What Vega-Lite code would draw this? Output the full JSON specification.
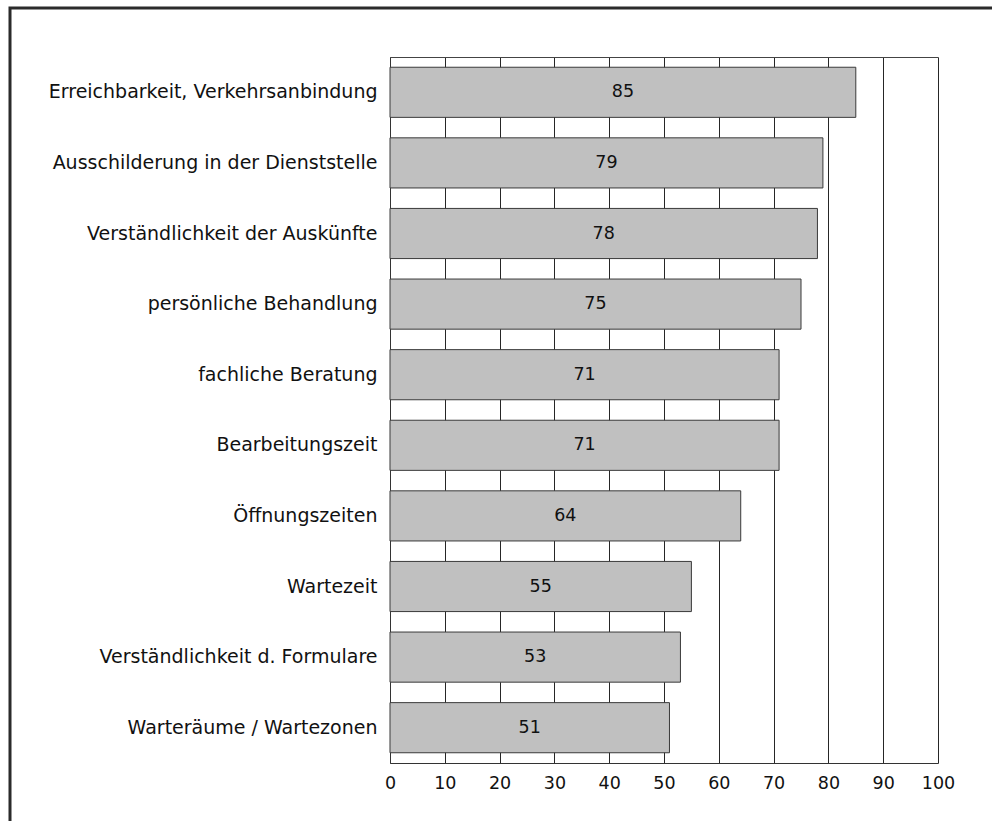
{
  "$schema": "https://vega.github.io/schema/vega-lite/v6.json",
  "width": 984,
  "height": 830,
  "autosize": "none",
  "padding": {"left": 10, "top": 8, "right": 0, "bottom": 0},
  "background": "white",
  "data": {
    "values": [
      {"aspekt": "Erreichbarkeit, Verkehrsanbindung", "wert": 85},
      {"aspekt": "Ausschilderung in der Dienststelle", "wert": 79},
      {"aspekt": "Verständlichkeit der Auskünfte", "wert": 78},
      {"aspekt": "persönliche Behandlung", "wert": 75},
      {"aspekt": "fachliche Beratung", "wert": 71},
      {"aspekt": "Bearbeitungszeit", "wert": 71},
      {"aspekt": "Öffnungszeiten", "wert": 64},
      {"aspekt": "Wartezeit", "wert": 55},
      {"aspekt": "Verständlichkeit d. Formulare", "wert": 53},
      {"aspekt": "Warteräume / Wartezonen", "wert": 51}
    ]
  },
  "encoding": {
    "y": {
      "field": "aspekt",
      "type": "nominal",
      "sort": null,
      "scale": {"range": [49, 755], "paddingInner": 0.29, "paddingOuter": 0.145},
      "axis": {
        "title": null,
        "orient": "left",
        "offset": -380,
        "ticks": false,
        "domain": true,
        "domainColor": "#333333",
        "domainWidth": 1,
        "grid": false,
        "labelPadding": 13,
        "labelLimit": 400,
        "labelFont": "DejaVu Sans",
        "labelFontSize": 19,
        "labelColor": "#111111"
      }
    }
  },
  "layer": [
    {
      "mark": {"type": "bar", "fill": "#c0c0c0", "stroke": "#3a3a3a", "strokeWidth": 1},
      "encoding": {
        "x": {
          "field": "wert",
          "type": "quantitative",
          "scale": {"domain": [0, 100], "range": [380, 928], "nice": false},
          "axis": {
            "title": null,
            "orient": "bottom",
            "offset": -75,
            "values": [0, 10, 20, 30, 40, 50, 60, 70, 80, 90, 100],
            "grid": false,
            "ticks": false,
            "domain": true,
            "domainColor": "#333333",
            "domainWidth": 1,
            "labelPadding": 11,
            "labelFlush": false,
            "labelFont": "DejaVu Sans",
            "labelFontSize": 17.5,
            "labelColor": "#111111"
          }
        },
        "x2": {"datum": 0}
      }
    },
    {
      "transform": [{"calculate": "datum.wert / 2", "as": "mitte"}],
      "mark": {"type": "text", "font": "DejaVu Sans", "fontSize": 17.5, "color": "#111111", "align": "center", "baseline": "middle"},
      "encoding": {
        "x": {
          "field": "mitte",
          "type": "quantitative",
          "axis": {
            "title": null,
            "orient": "top",
            "offset": -49,
            "values": [0, 10, 20, 30, 40, 50, 60, 70, 80, 90, 100],
            "labels": false,
            "ticks": false,
            "grid": true,
            "gridColor": "#262626",
            "gridWidth": 1,
            "gridOpacity": 1,
            "domain": true,
            "domainColor": "#444444",
            "domainWidth": 1
          }
        },
        "text": {"field": "wert", "type": "quantitative"}
      }
    }
  ],
  "resolve": {"axis": {"x": "independent"}},
  "config": {
    "view": {"stroke": "#2b2b2b", "strokeWidth": 3, "fill": "white"}
  }
}
